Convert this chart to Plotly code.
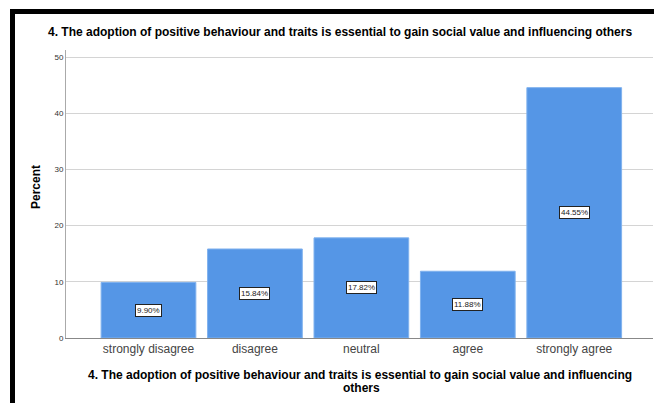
import plotly.graph_objects as go

categories = ["strongly disagree", "disagree", "neutral", "agree", "strongly agree"]
percents = [9.90, 15.84, 17.82, 11.88, 44.55]
y_ticks = [0, 10, 20, 30, 40, 50]
title_text = "4. The adoption of positive behaviour and traits is essential to gain social value and influencing others"
xtitle_line1 = "4. The adoption of positive behaviour and traits is essential to gain social value and influencing"
xtitle_line2 = "others"
ytitle = "Percent"

FONT = "Liberation Sans, Arial, sans-serif"
W, H = 654, 403
L, R, T, B = 66, 1, 50, 65
pw = W - L - R
ph = H - T - B

def px2x(px):
    return (px - L) / pw

def py2y(py):
    return (H - B - py) / ph

fig = go.Figure()
fig.add_trace(go.Bar(
    x=list(range(len(categories))),
    y=percents,
    marker=dict(color="#5596E6", line=dict(color="#80B2EE", width=1)),
    width=0.89,
    hoverinfo="skip",
))

annotations = []
for i, v in enumerate(percents):
    annotations.append(dict(
        x=i, y=v / 2, xref="x", yref="y", text=f"{v:.2f}%", showarrow=False,
        font=dict(family=FONT, size=8, color="#222222"),
        bgcolor="white", bordercolor="#222222", borderwidth=1, borderpad=1,
    ))

annotations.append(dict(x=px2x(36), y=py2y(187), xref="paper", yref="paper", text=ytitle,
                        textangle=-90, showarrow=False, xanchor="center", yanchor="middle",
                        font=dict(family=FONT, size=12, color="black", weight="bold")))
annotations.append(dict(x=px2x(360), y=py2y(375), xref="paper", yref="paper", text=xtitle_line1,
                        showarrow=False, yanchor="middle",
                        font=dict(family=FONT, size=12, color="black", weight="bold")))
annotations.append(dict(x=px2x(362), y=py2y(388), xref="paper", yref="paper", text=xtitle_line2,
                        showarrow=False, yanchor="middle",
                        font=dict(family=FONT, size=12, color="black", weight="bold")))
annotations.append(dict(x=px2x(340), y=py2y(32), xref="paper", yref="paper", text=title_text,
                        showarrow=False, yanchor="middle",
                        font=dict(family=FONT, size=12, color="black", weight="bold")))

shapes = [
    dict(type="rect", xref="paper", yref="paper", x0=px2x(10), x1=px2x(W + 2),
         y0=py2y(14), y1=py2y(9), fillcolor="black", line=dict(width=0), layer="above"),
    dict(type="rect", xref="paper", yref="paper", x0=px2x(10), x1=px2x(15),
         y0=py2y(H + 2), y1=py2y(9), fillcolor="black", line=dict(width=0), layer="above"),
]

fig.update_layout(
    width=W, height=H,
    margin=dict(l=L, r=R, t=T, b=B),
    paper_bgcolor="white", plot_bgcolor="white",
    showlegend=False,
    annotations=annotations,
    shapes=shapes,
    xaxis=dict(
        tickmode="array", tickvals=list(range(len(categories))), ticktext=categories,
        range=[-0.775, 4.74], showgrid=False, zeroline=False,
        showline=True, linecolor="#888888", linewidth=1, ticks="",
        tickfont=dict(family=FONT, size=12, color="#444444"),
    ),
    yaxis=dict(
        range=[0, 51.25], tickmode="array", tickvals=y_ticks,
        showgrid=True, gridcolor="#D4D4D4", gridwidth=1, zeroline=False,
        showline=True, linecolor="#AAAAAA", linewidth=1, ticks="",
        tickfont=dict(family=FONT, size=8, color="#333333"),
    ),
)

fig.write_html("out.html")
